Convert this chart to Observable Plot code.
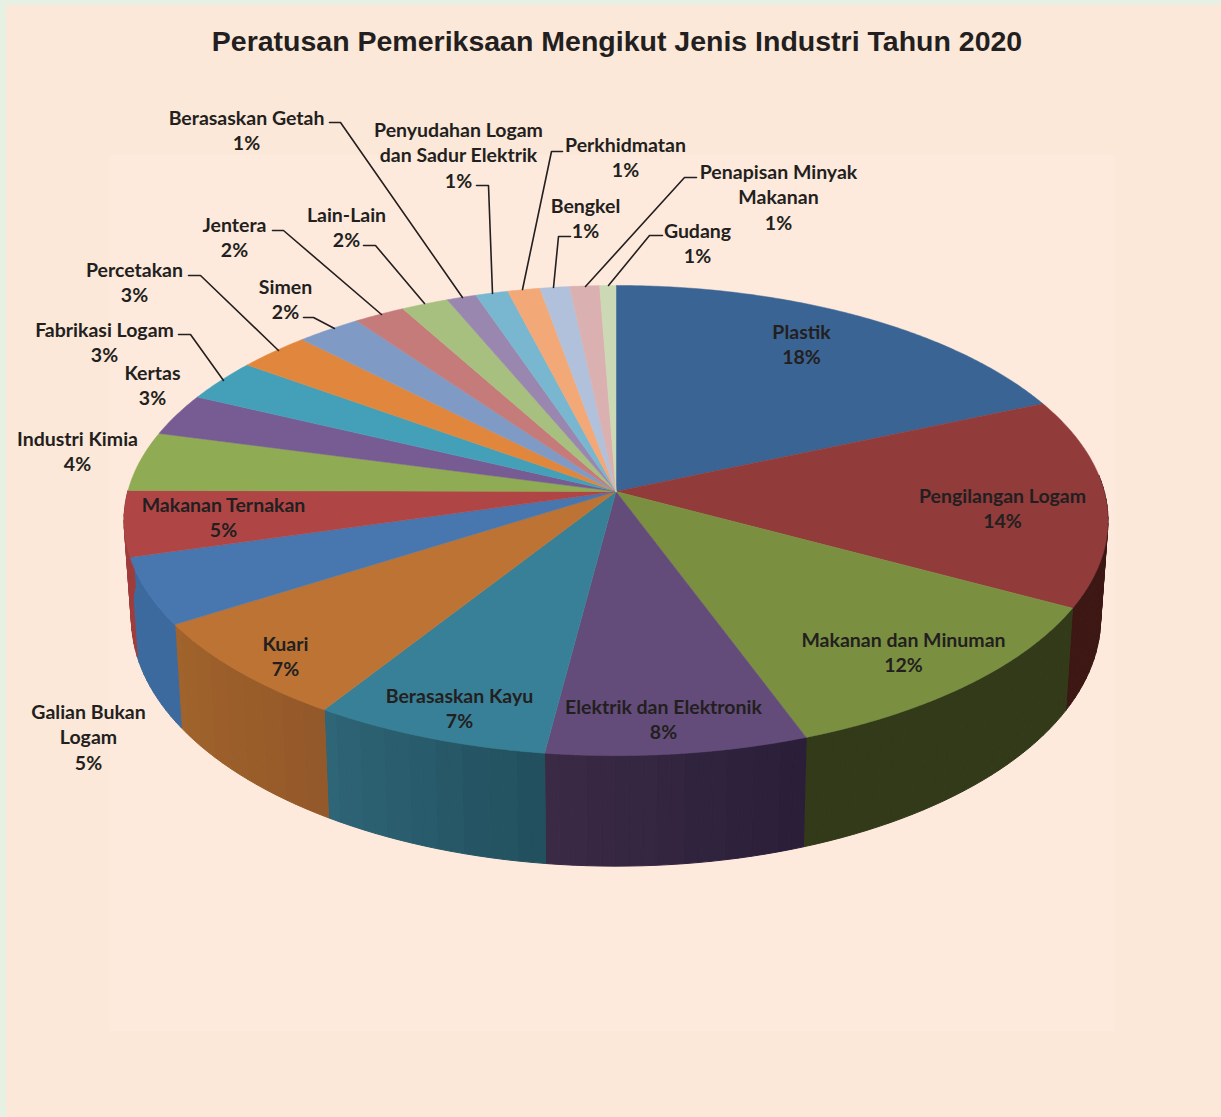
<!DOCTYPE html>
<html lang="ms">
<head>
<meta charset="utf-8">
<script src="https://cdn.jsdelivr.net/npm/d3@7"></script>
<script src="https://cdn.jsdelivr.net/npm/@observablehq/plot@0.6"></script>
<style>
html,body{margin:0;padding:0;background:#E6F1E4;}
#page{position:relative;width:1221px;height:1117px;overflow:hidden;}
#title{position:absolute;left:0;top:23px;width:1234px;text-align:center;font:bold 28.5px/36px "Liberation Sans",Arial,sans-serif;color:#231F20;z-index:2;margin:0;}
#page svg{position:absolute;left:0;top:0;background:none;}
</style>
</head>
<body>
<div id="page"><h1 id="title">Peratusan Pemeriksaan Mengikut Jenis Industri Tahun 2020</h1></div>
<script>
// --- chart values, clockwise from 12 o'clock ---
const names = ["Plastik","Pengilangan Logam","Makanan dan Minuman","Elektrik dan Elektronik","Berasaskan Kayu","Kuari","Galian Bukan\nLogam","Makanan Ternakan","Industri Kimia","Kertas","Fabrikasi Logam","Percetakan","Simen","Jentera","Lain-Lain","Berasaskan Getah","Penyudahan Logam\ndan Sadur Elektrik","Perkhidmatan","Bengkel","Penapisan Minyak\nMakanan","Gudang"];
const shares = [18.5,14.4,11.55,7.65,6.95,7.0,4.6,4.5,4.1,2.9,2.9,2.7,2.4,1.9,1.75,1.1,1.2,1.2,1.1,1.1,0.6];
const percentLabels = ["18%","14%","12%","8%","7%","7%","5%","5%","4%","3%","3%","3%","2%","2%","2%","1%","1%","1%","1%","1%","1%"];
const topColors = ["#3A6494","#913B3B","#7A9040","#634C7A","#388097","#BC7333","#4876AE","#AF4645","#8FAB53","#775C94","#44A0B8","#E1873D","#7F9BC5","#C47B7A","#A8C07F","#9A87B0","#78B7CF","#F3A877","#B1C1DB","#DAB0B0","#CCD9B5"];
// side wall shades for the slices facing the viewer (Pengilangan Logam .. Makanan Ternakan)
const wallStart = ["#3C1714","#323A1A","#2A1E38","#22505E","#94592A","#3C6A9E","#A03C3C"];
const wallEnd   = ["#3C1714","#323A1A","#3B2A46","#2E6577","#A0632B","#3C6A9E","#A03C3C"];
const wallFirstSlice = 1;

// --- layout of the annotations (page pixels), separate from the values ---
const labelX = [801,1002,903,663,459,285,88,223,77,152,104,134,285,234,346,246,458,625,585,778,697];
const labelY = [332,496,640,707,696,644,712,505,439,373,330,270,287,225,215,118,130,145,206,172,231];
const leaders = [
  [[329,122],[340,122],[462,297]],
  [[476,185],[488,185],[492,293]],
  [[562,151],[551,151],[522,289]],
  [[570,236],[558,236],[553,287]],
  [[696,177],[684,177],[585,286]],
  [[662,235],[649,235],[608,285]],
  [[363,245],[375,245],[424,303]],
  [[272,230],[283,230],[381,314]],
  [[303,317],[313,317],[334,328]],
  [[188,275],[200,275],[278,350]],
  [[178,334],[190,334],[223,380]]
];
const panels = [
  {x1:6,x2:1221,y1:5,y2:1117,fill:"#FBE8D9"},
  {x1:109,x2:1115,y1:155,y2:1031,fill:"#FDEADC"}
];

// --- projection of the tilted disc ---
const k = 0.1236;
const topDisc = {x0:615.5, y0:491, A:488.2, B:231.5};
const lowDisc = {x0:615.5, y0:587, A:480.9, B:244.2};
const project = (d, deg) => {
  const t = deg*Math.PI/180, w = 1 + k*Math.cos(t);
  return [d.x0 + d.A*Math.sin(t)/w, d.y0 - d.B*Math.cos(t)/w];
};

// --- derive geometry from the shares ---
const total = d3.sum(shares);
const ends = Array.from(d3.cumsum(shares), v => v/total*360);
const starts = ends.map((e,i) => i ? ends[i-1] : 0);

const topRows = [];
shares.forEach((_,i) => {
  topRows.push({id:i,x:topDisc.x0,y:topDisc.y0,fill:topColors[i]});
  const n = Math.max(2,Math.ceil((ends[i]-starts[i])/0.5));
  for (let j=0;j<=n;j++){
    const [x,y] = project(topDisc, starts[i]+(ends[i]-starts[i])*j/n);
    topRows.push({id:i,x,y,fill:topColors[i]});
  }
  topRows.push({id:i,x:topDisc.x0,y:topDisc.y0,fill:topColors[i]});
});

const wallRows = [];
const wallLo = 86, wallHi = 274;
wallStart.forEach((c0,w) => {
  const i = w + wallFirstSlice;
  const a0 = Math.max(starts[i],wallLo), a1 = Math.min(ends[i],wallHi);
  if (a1 <= a0) return;
  const n = Math.ceil((a1-a0)/1.5);
  const mix = d3.interpolateRgb(c0,wallEnd[w]);
  for (let j=0;j<n;j++){
    const b0 = a0+(a1-a0)*j/n, b1 = a0+(a1-a0)*(j+1)/n;
    const fill = d3.rgb(mix(Math.round(j/n*8)/8)).formatHex();
    const id = i+"-"+j;
    [project(topDisc,b0),project(topDisc,b1),project(lowDisc,b1),project(lowDisc,b0),project(topDisc,b0)]
      .forEach(([x,y]) => wallRows.push({id,x,y,fill}));
  }
});

const leaderRows = leaders.flatMap((pts,id) => pts.map(([x,y]) => ({id,x,y})));
const labelRows = names.map((n,i) => ({text:n+"\n"+percentLabels[i],x:labelX[i],y:labelY[i]}));

const chart = Plot.plot({
  width:1221,height:1117,margin:0,
  x:{domain:[0,1221],range:[0,1221],axis:null},
  y:{domain:[0,1117],range:[0,1117],axis:null},
  color:{type:"identity"},
  style:{background:"none"},
  marks:[
    Plot.rect(panels,{x1:"x1",x2:"x2",y1:"y1",y2:"y2",fill:"fill"}),
    Plot.line(wallRows,{x:"x",y:"y",z:"id",fill:"fill",stroke:"fill",strokeWidth:1,curve:"linear"}),
    Plot.line(topRows,{x:"x",y:"y",z:"id",fill:"fill",stroke:"fill",strokeWidth:0.5,curve:"linear"}),
    Plot.line(leaderRows,{x:"x",y:"y",z:"id",stroke:"#231F20",strokeWidth:1.6,curve:"linear"}),
    Plot.text(labelRows,{x:"x",y:"y",text:"text",lineAnchor:"top",textAnchor:"middle",dy:-12,lineHeight:1.31,
      fontFamily:"Lato",fontWeight:700,fontSize:19.5,fill:"#231F20"})
  ]
});
document.getElementById("page").appendChild(chart);
</script>
</body>
</html>
